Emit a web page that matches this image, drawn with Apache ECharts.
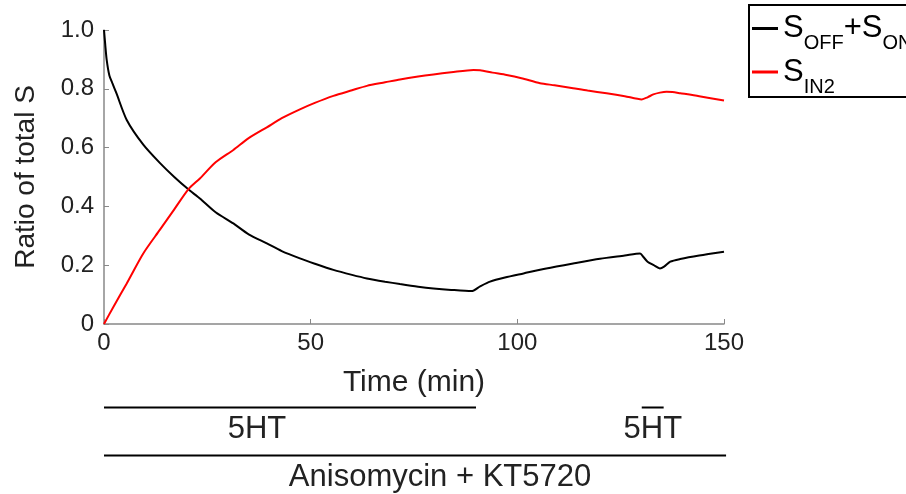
<!DOCTYPE html>
<html>
<head>
<meta charset="utf-8">
<script src="https://cdn.jsdelivr.net/npm/echarts@6/dist/echarts.min.js"></script>
<style>
  html, body { margin: 0; padding: 0; background: #fff; }
  #chart { width: 906px; height: 494px; }
</style>
</head>
<body>
<div id="chart"></div>
<script>
// S_OFF + S_ON (black)
const timeBlack = [0, 0.3, 0.65, 1.3, 2, 3, 5.5, 9.5, 13.5, 17, 20.4, 23.2, 27, 31.3, 35, 39.4, 43, 47.4,
  51, 55.5, 60, 63.6, 68, 71.6, 76, 79.7, 84, 88.9, 91, 93.4, 97, 101.5, 107, 113.5, 120, 126, 129.7,
  130.5, 131.5, 133, 134.5, 135.5, 137, 139.4, 144, 150];
const valBlack = [1.0, 0.95, 0.898, 0.845, 0.82, 0.785, 0.694, 0.61, 0.548, 0.50, 0.458, 0.427, 0.38, 0.342, 0.305, 0.274, 0.248, 0.223,
  0.205, 0.184, 0.167, 0.155, 0.144, 0.136, 0.127, 0.121, 0.116, 0.112, 0.128, 0.144, 0.158, 0.172, 0.189, 0.206, 0.222, 0.233, 0.240,
  0.228, 0.212, 0.200, 0.189, 0.195, 0.212, 0.221, 0.233, 0.246];

// S_IN2 (red)
const timeRed = [0, 2.3, 5.5, 9.5, 13.5, 17, 20.4, 23.2, 27, 31.3, 35, 39.4, 43, 47.4, 51, 55.5, 60, 63.6,
  68, 71.6, 76, 79.7, 84, 89.4, 91, 94, 97.4, 101, 105.5, 109, 113.5, 117, 121.6, 126, 130.1, 131.5, 132.9,
  134.5, 136.1, 137.5, 139.4, 144, 150];
const valRed = [0, 0.059, 0.138, 0.240, 0.320, 0.39, 0.458, 0.495, 0.55, 0.592, 0.632, 0.669, 0.700, 0.730, 0.752, 0.776, 0.795, 0.810,
  0.822, 0.832, 0.842, 0.849, 0.856, 0.864, 0.863, 0.855, 0.847, 0.836, 0.819, 0.812, 0.802, 0.794, 0.785, 0.775, 0.764, 0.771, 0.781,
  0.787, 0.790, 0.789, 0.785, 0.775, 0.760];

const xTicks = [0, 50, 100, 150];

// treatment bars under the axis, in minutes
const treatments = [
  { label: '5HT', from: 0, to: 90, at: 37 },
  { label: 'Anisomycin + KT5720', from: 0, to: 150.5, at: 81.3 }
];
const washLabel = { label: '5HT', at: 132.8, barFrom: 130.1, barTo: 135.4 };

const FONT = "'Liberation Sans', Arial, sans-serif";
const ink = '#222';
const axisGray = '#888';

function pairs(ts, vs) { return ts.map((t, i) => [t, vs[i]]); }

const myChart = echarts.init(document.getElementById('chart'));

const option = {
  animation: false,
  textStyle: { fontFamily: FONT },
  grid: { left: 104, top: 30, width: 620, height: 294, outerBoundsMode: 'none' },
  legend: {
    orient: 'vertical',
    left: 749,
    top: 5,
    borderColor: '#000',
    borderWidth: 2,
    borderRadius: 0,
    padding: [8, 40, 0, 3],
    itemGap: 3,
    itemWidth: 26,
    itemHeight: 3,
    icon: 'rect',
    data: ['S_OFF+S_ON', 'S_IN2'],
    formatter: function (name) {
      if (name === 'S_IN2') return '{s|S}{sub|IN2}';
      return '{s|S}{sub|OFF}{s|+S}{sub|ON}';
    },
    textStyle: {
      color: '#000',
      fontFamily: FONT,
      rich: {
        s: { fontSize: 31, lineHeight: 40, fontFamily: FONT, color: '#000' },
        sub: { fontSize: 20, lineHeight: 6, verticalAlign: 'bottom', padding: [0, 0, -5, 0], fontFamily: FONT, color: '#000' }
      }
    }
  },
  xAxis: {
    type: 'value',
    min: 0,
    max: 150,
    interval: 50,
    name: 'Time (min)',
    nameLocation: 'middle',
    nameGap: 44,
    nameTextStyle: { fontSize: 30, color: ink, fontFamily: FONT },
    axisLine: { lineStyle: { color: axisGray, width: 1.5 } },
    axisTick: { inside: true, length: 5, lineStyle: { color: axisGray } },
    axisLabel: { fontSize: 24, color: ink, margin: 7, fontFamily: FONT, customValues: xTicks },
    splitLine: { show: false }
  },
  yAxis: {
    type: 'value',
    min: 0,
    max: 1,
    interval: 0.2,
    name: 'Ratio of total S',
    nameLocation: 'middle',
    nameRotate: 90,
    nameGap: 64,
    nameTextStyle: { fontSize: 28, color: ink, fontFamily: FONT },
    axisLine: { show: true, lineStyle: { color: axisGray, width: 1.5 } },
    axisTick: { show: true, inside: true, length: 5, lineStyle: { color: axisGray } },
    axisLabel: {
      fontSize: 24, color: ink, margin: 10, fontFamily: FONT,
      formatter: v => (v === 0 ? '0' : v.toFixed(1))
    },
    splitLine: { show: false }
  },
  series: [
    {
      name: 'S_OFF+S_ON',
      type: 'line',
      showSymbol: false,
      smooth: 0.25,
      data: pairs(timeBlack, valBlack),
      lineStyle: { color: '#000', width: 2 },
      itemStyle: { color: '#000' }
    },
    {
      name: 'S_IN2',
      type: 'line',
      showSymbol: false,
      smooth: 0.25,
      data: pairs(timeRed, valRed),
      lineStyle: { color: '#ff0000', width: 2 },
      itemStyle: { color: '#ff0000' }
    }
  ]
};

myChart.setOption(option);

// annotation bars below the axis, placed with the x axis scale
const px = t => myChart.convertToPixel({ xAxisIndex: 0 }, t);
const barY = [407.5, 455.5];
const labelY = [429, 477];
const graphics = [];
treatments.forEach((tr, i) => {
  graphics.push({
    type: 'line',
    shape: { x1: px(tr.from), y1: barY[i], x2: px(tr.to), y2: barY[i] },
    style: { stroke: '#000', lineWidth: 2 }
  });
  graphics.push({
    type: 'text',
    x: px(tr.at), y: labelY[i],
    style: { text: tr.label, font: '31px ' + FONT, fill: ink, align: 'center', verticalAlign: 'middle' }
  });
});
graphics.push({
  type: 'text',
  x: px(washLabel.at), y: labelY[0],
  style: { text: washLabel.label, font: '31px ' + FONT, fill: ink, align: 'center', verticalAlign: 'middle' }
});
graphics.push({
  type: 'line',
  shape: { x1: px(washLabel.barFrom), y1: barY[0], x2: px(washLabel.barTo), y2: barY[0] },
  style: { stroke: '#000', lineWidth: 2 }
});
myChart.setOption({ graphic: graphics });
</script>
</body>
</html>
